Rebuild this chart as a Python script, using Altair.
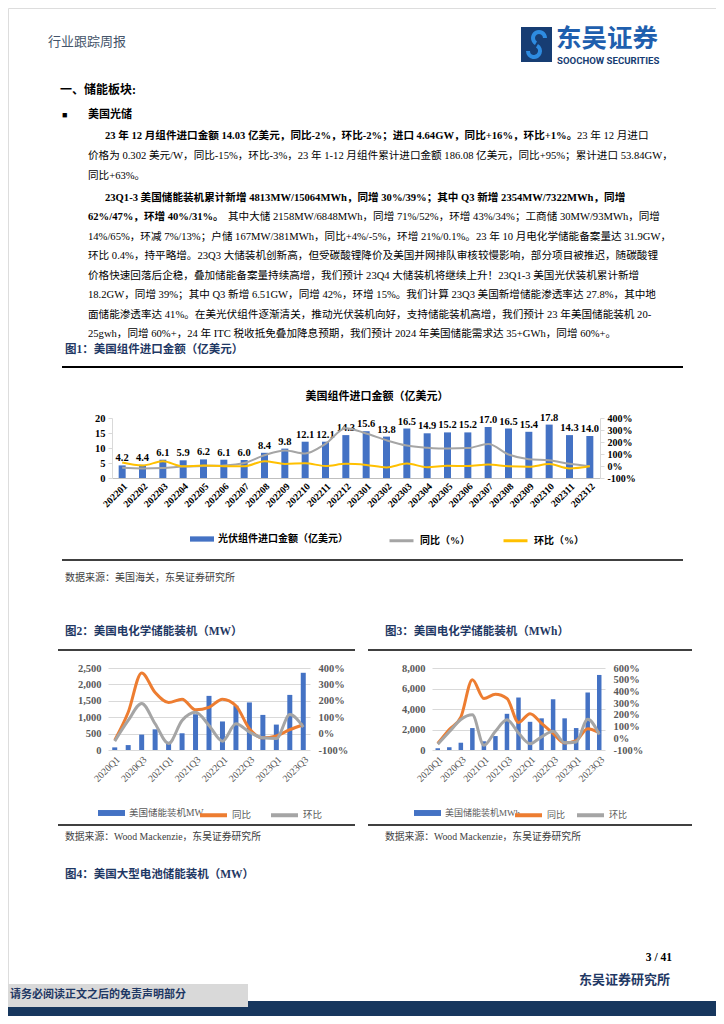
import altair as alt
import pandas as pd

# ---------------- data ----------------
months = ["202201", "202202", "202203", "202204", "202205", "202206", "202207", "202208",
          "202209", "202210", "202211", "202212", "202301", "202302", "202303", "202304",
          "202305", "202306", "202307", "202308", "202309", "202310", "202311", "202312"]
import_value = [4.2, 4.4, 6.1, 5.9, 6.2, 6.1, 6.0, 8.4, 9.8, 12.1, 12.1, 14.3,
                15.6, 13.8, 16.5, 14.9, 15.2, 15.2, 17.0, 16.5, 15.4, 17.8, 14.3, 14.0]
import_yoy = [-15, -20, -17, -5, 0, 5, 25, 90, 130, 105, 185, 315,
              271, 214, 170, 153, 145, 149, 183, 96, 57, 47, 18, -2]
import_mom = [30, 5, 39, -3, 5, -2, -2, 40, 17, 23, 0, 18,
              9, -12, 20, -10, 2, 0, 12, -3, -7, 16, -20, -2]

quarters = ["2020Q1", "2020Q2", "2020Q3", "2020Q4", "2021Q1", "2021Q2", "2021Q3", "2021Q4",
            "2022Q1", "2022Q2", "2022Q3", "2022Q4", "2023Q1", "2023Q2", "2023Q3"]
mw_added = [80, 150, 470, 630, 250, 510, 1090, 1650, 870, 1350, 1450, 1070, 775, 1680, 2354]
mw_yoy = [-40, 130, 370, 250, 190, 210, 145, 160, 210, 170, 30, -26, -14, 24, 54]
mw_qoq = [-46, 80, 184, 60, -60, 80, 130, 50, -46, 60, 10, -26, -30, 116, 40]

mwh_added = [170, 270, 710, 2140, 850, 1360, 3530, 5120, 2750, 3090, 4950, 3090, 2140, 5610, 7322]
mwh_yoy = [-45, 75, 180, 500, 340, 375, 340, 135, 210, 128, 42, -40, -20, 82, 47]
mwh_qoq = [-50, 55, 160, 200, -60, 60, 158, 45, -46, 12, 60, -38, -31, 162, 31]

# ---------------- styles ----------------
SER = "Liberation Serif, Noto Sans CJK SC, serif"
NAVY = "#1f3864"
BLUE = "#4472c4"
W, H = 708, 1008
BODY = 10.6
one = pd.DataFrame({"k": [0]})


def P(v):
    """page pixel -> chart pixel (page has an 8px margin)"""
    return v - 8


def T(s, px, py, size=BODY, weight="normal", color="#000000", align="left", font=SER):
    return alt.Chart(one).mark_text(
        text=s, align=align, baseline="middle", fontSize=size, fontWeight=weight,
        color=color, font=font
    ).encode(x=alt.value(P(px)), y=alt.value(P(py)))


def R(px1, px2, py, w=1.5, color="#000000"):
    return alt.Chart(one).mark_rule(strokeWidth=w, color=color).encode(
        x=alt.value(P(px1)), x2=alt.value(P(px2)), y=alt.value(P(py)))


def BOX(px1, px2, py1, py2, color):
    return alt.Chart(one).mark_rect(color=color).encode(
        x=alt.value(max(P(px1), 0)), x2=alt.value(min(P(px2), W)),
        y=alt.value(P(py1)), y2=alt.value(min(P(py2), H)))


def ARC(cx, cy, t1, t2, r1, r2, color):
    return alt.Chart(one).mark_arc(theta=t1, theta2=t2, radius=r1, radius2=r2, color=color).encode(
        x=alt.value(P(cx)), y=alt.value(P(cy)))


layers = []

# ---------------- header + text ----------------
layers += [
    T("行业跟踪周报", 48, 42, size=13, color="#44546a"),
    BOX(521, 552, 27, 62, "#173d73"),
    ARC(539, 38, 3.67, 7.85, 8, 4, "#2e8be0"),
    ARC(534, 51, 0.52, 4.71, 8, 4, "#2e8be0"),
    T("东吴证券", 556, 38.5, size=25.5, weight="bold", color="#1f5fae", font="Noto Sans CJK SC"),
    T("SOOCHOW SECURITIES", 557, 60.5, size=9.6, weight="bold", color="#173d73", font="Roboto"),
    T("一、储能板块:", 60, 90, size=12, weight="bold"),
    T("■", 62, 115, size=9),
    T("美国光储", 88, 115, size=11, weight="bold"),
]
para = [
    (105, 136, "23 年 12 月组件进口金额 14.03 亿美元，同比-2%，环比-2%；进口 4.64GW，同比+16%，环比+1%。", "bold"),
    (577, 136, "23 年 12 月进口", "normal"),
    (88, 156, "价格为 0.302 美元/W，同比-15%，环比-3%，23 年 1-12 月组件累计进口金额 186.08 亿美元，同比+95%；累计进口 53.84GW，", "normal"),
    (88, 176, "同比+63%。", "normal"),
    (105, 198, "23Q1-3 美国储能装机累计新增 4813MW/15064MWh，同增 30%/39%；其中 Q3 新增 2354MW/7322MWh，同增", "bold"),
    (88, 217, "62%/47%，环增 40%/31%。", "bold"),
    (228, 217, "其中大储 2158MW/6848MWh，同增 71%/52%，环增 43%/34%；工商储 30MW/93MWh，同增", "normal"),
    (88, 237, "14%/65%，环减 7%/13%；户储 167MW/381MWh，同比+4%/-5%，环增 21%/0.1%。23 年 10 月电化学储能备案量达 31.9GW，", "normal"),
    (88, 256, "环比 0.4%，持平略增。23Q3 大储装机创新高，但受碳酸锂降价及美国并网排队审核较慢影响，部分项目被推迟，随碳酸锂", "normal"),
    (88, 276, "价格快速回落后企稳，叠加储能备案量持续高增，我们预计 23Q4 大储装机将继续上升！23Q1-3 美国光伏装机累计新增", "normal"),
    (88, 295, "18.2GW，同增 39%；其中 Q3 新增 6.51GW，同增 42%，环增 15%。我们计算 23Q3 美国新增储能渗透率达 27.8%，其中地", "normal"),
    (88, 315, "面储能渗透率达 41%。在美光伏组件逐渐清关，推动光伏装机向好，支持储能装机高增，我们预计 23 年美国储能装机 20-", "normal"),
    (88, 334, "25gwh，同增 60%+，24 年 ITC 税收抵免叠加降息预期，我们预计 2024 年美国储能需求达 35+GWh，同增 60%+。", "normal"),
]
for px, py, s, wt in para:
    layers.append(T(s, px, py, weight=wt))

layers += [
    T("图1：美国组件进口金额（亿美元）", 65, 350, size=11.5, weight="bold", color=NAVY),
    R(62, 683, 367, w=1.8),
    T("美国组件进口金额（亿美元）", 377, 397, size=11, weight="bold", align="center"),
    R(62, 683, 560, w=1.6),
    T("数据来源：美国海关，东吴证券研究所", 65, 578, size=10, color="#404040"),
    T("图2：美国电化学储能装机（MW）", 65, 632, size=11.5, weight="bold", color=NAVY),
    T("图3：美国电化学储能装机（MWh）", 385, 632, size=11.5, weight="bold", color=NAVY),
    R(58, 355, 650, w=1.3),
    R(368, 692, 650, w=1.3),
    R(58, 355, 825, w=1.3),
    R(368, 692, 825, w=1.3),
    T("数据来源：Wood Mackenzie，东吴证券研究所", 65, 837, size=9.8, color="#404040"),
    T("数据来源：Wood Mackenzie，东吴证券研究所", 385, 837, size=9.8, color="#404040"),
    T("图4：美国大型电池储能装机（MW）", 65, 875, size=11.5, weight="bold", color=NAVY),
    T("3 / 41", 672, 958, size=11.5, weight="bold", align="right"),
    T("东吴证券研究所", 670, 980, size=13, weight="bold", color=NAVY, align="right"),
    BOX(0, 724, 1001, 1024, "#17375e"),
    BOX(0, 248, 984, 1007, "#d9d9d9"),
    T("请务必阅读正文之后的免责声明部分", 10, 995, size=11, weight="bold", color=NAVY),
]

# ---------------- figure 1 ----------------
F1_X = [P(112), P(600)]
F1_Y = [P(478), P(418)]
df1 = pd.DataFrame({"month": months, "value": import_value, "yoy": import_yoy, "mom": import_mom})


def x1(axis=None):
    return alt.X("month:N", title=None,
                 scale=alt.Scale(domain=months, range=F1_X, paddingInner=0, paddingOuter=0),
                 axis=axis)


def y1(axis=None):
    return alt.Y("value:Q", title=None,
                 scale=alt.Scale(domain=[0, 20], range=F1_Y, nice=False, zero=True), axis=axis)


x1_axis = alt.Axis(orient="bottom", offset=F1_Y[0] - H, labelAngle=-45, labelFont=SER,
                   labelFontSize=9.8, labelFontWeight="bold", labelColor="#000000",
                   domainColor="#bfbfbf", ticks=False, labelPadding=3, grid=False)
y1_axis = alt.Axis(orient="left", offset=-F1_X[0], values=[0, 5, 10, 15, 20], grid=False,
                   labelFont=SER, labelFontSize=10.5, labelFontWeight="bold", labelColor="#000000",
                   domainColor="#d9d9d9", tickColor="#d9d9d9", tickSize=4, labelPadding=3)
bars1 = alt.Chart(df1).transform_calculate(s="'光伏组件进口金额（亿美元）'").mark_bar(size=7).encode(
    x=x1(x1_axis), y=y1(y1_axis),
    color=alt.Color("s:N", scale=alt.Scale(range=[BLUE]),
                    legend=alt.Legend(orient="none", legendX=P(190), legendY=P(539 - 12), title=None,
                                      padding=0, symbolType="M-1,-0.22H1V0.22H-1Z", symbolSize=576,
                                      symbolStrokeWidth=0, labelFont=SER, labelFontSize=10,
                                      labelFontWeight="bold", labelColor="#000000", labelOffset=4)))
labels1 = alt.Chart(df1).mark_text(baseline="bottom", dy=-2, font=SER, fontSize=10.5,
                                   fontWeight="bold", color="#000000").encode(
    x=x1(), y=y1(), text=alt.Text("value:Q", format=".1f"))
lines1 = alt.Chart(df1).transform_fold(["yoy", "mom"], as_=["key", "pct"]).transform_calculate(
    series="datum.key == 'yoy' ? '同比（%）' : '环比（%）'"
).mark_line(interpolate="monotone", strokeWidth=2).encode(
    x=x1(),
    y=alt.Y("pct:Q", title=None, scale=alt.Scale(domain=[-100, 400], range=F1_Y, nice=False, zero=False),
            axis=alt.Axis(orient="right", offset=F1_X[1] - W, values=[-100, 0, 100, 200, 300, 400],
                          grid=False, labelExpr="datum.value + '%'", labelFont=SER, labelFontSize=10,
                          labelFontWeight="bold", labelColor="#000000", domainColor="#d9d9d9",
                          tickColor="#d9d9d9", tickSize=4, labelPadding=3)),
    stroke=alt.Stroke("series:N", scale=alt.Scale(domain=["同比（%）", "环比（%）"], range=["#a5a5a5", "#ffc000"]),
                      legend=alt.Legend(orient="none", legendX=P(388), legendY=P(539 - 12), title=None,
                                        padding=0, direction="horizontal", symbolType="stroke",
                                        symbolSize=576, symbolStrokeWidth=3, columnPadding=27,
                                        labelFont=SER, labelFontSize=10, labelFontWeight="bold",
                                        labelColor="#000000", labelOffset=5)))
layers += [bars1, labels1, lines1]


# ---------------- figures 2 and 3 ----------------
def storage_layers(values, yoy, qoq, bar_name, ymax, ystep, rmax, px0, px1, bar_size,
                   leg_bar_x, leg_line_x, col_pad, leg_size):
    xr = [P(px0), P(px1)]
    yr = [P(750), P(668)]
    df = pd.DataFrame({"q": quarters, "v": values, "yoy": yoy, "qoq": qoq})

    def xq(axis=None):
        return alt.X("q:N", title=None,
                     scale=alt.Scale(domain=quarters, range=xr, paddingInner=0, paddingOuter=0),
                     axis=axis)

    x_axis = alt.Axis(orient="bottom", offset=yr[0] - H, values=quarters[::2], labelAngle=-45,
                      labelFont=SER, labelFontSize=9.8, labelColor="#595959", domain=False,
                      ticks=False, labelPadding=4, grid=False)
    leg_y = P(813 - 13.5)
    bars = alt.Chart(df).transform_calculate(s="'" + bar_name + "'").mark_bar(size=bar_size).encode(
        x=xq(x_axis),
        y=alt.Y("v:Q", title=None, scale=alt.Scale(domain=[0, ymax], range=yr, nice=False),
                axis=alt.Axis(orient="left", offset=-xr[0], values=list(range(0, ymax + 1, ystep)),
                              format=",.0f", grid=True, gridColor="#d9d9d9", domain=False,
                              ticks=False, labelFont=SER, labelFontSize=10.5, labelFontWeight="bold",
                              labelColor="#595959", labelPadding=7)),
        color=alt.Color("s:N", scale=alt.Scale(range=[BLUE]),
                        legend=alt.Legend(orient="none", legendX=P(leg_bar_x), legendY=leg_y,
                                          title=None, padding=0, symbolType="M-1,-0.22H1V0.22H-1Z",
                                          symbolSize=729, symbolStrokeWidth=0, labelFont=SER,
                                          labelFontSize=leg_size, labelColor="#595959", labelOffset=4)))
    lines = alt.Chart(df).transform_fold(["yoy", "qoq"], as_=["key", "pct"]).transform_calculate(
        series="datum.key == 'yoy' ? '同比' : '环比'"
    ).mark_line(interpolate="monotone", strokeWidth=3).encode(
        x=xq(),
        y=alt.Y("pct:Q", title=None, scale=alt.Scale(domain=[-100, rmax], range=yr, nice=False, zero=False),
                axis=alt.Axis(orient="right", offset=xr[1] - W, values=list(range(-100, rmax + 1, 100)),
                              grid=False, labelExpr="datum.value + '%'", domain=False, ticks=False,
                              labelFont=SER, labelFontSize=10.5, labelFontWeight="bold",
                              labelColor="#595959", labelPadding=8)),
        stroke=alt.Stroke("series:N", scale=alt.Scale(domain=["同比", "环比"], range=["#ed7d31", "#a5a5a5"]),
                          legend=alt.Legend(orient="none", legendX=P(leg_line_x), legendY=leg_y,
                                            title=None, padding=0, direction="horizontal",
                                            symbolType="stroke", symbolSize=729, symbolStrokeWidth=4,
                                            columnPadding=col_pad, labelFont=SER, labelFontSize=leg_size,
                                            labelColor="#595959", labelOffset=3)))
    return [bars, lines]


layers += storage_layers(mw_added, mw_yoy, mw_qoq, "美国储能装机MW", 2500, 500, 400, 108, 310, 5,
                         98, 198, 11, 9.5)
layers += storage_layers(mwh_added, mwh_yoy, mwh_qoq, "美国储能装机MWh", 8000, 2000, 600, 432, 605, 4.5,
                         414, 513, 3, 9)

chart = alt.layer(*layers).resolve_scale(
    x="independent", y="independent", color="independent", stroke="independent"
).properties(
    width=W, height=H, padding=0, autosize=alt.AutoSizeParams(type="none")
).configure_view(stroke=None).configure(background="white")

chart.save("out.html", embed_options={"renderer": "svg", "actions": False})
